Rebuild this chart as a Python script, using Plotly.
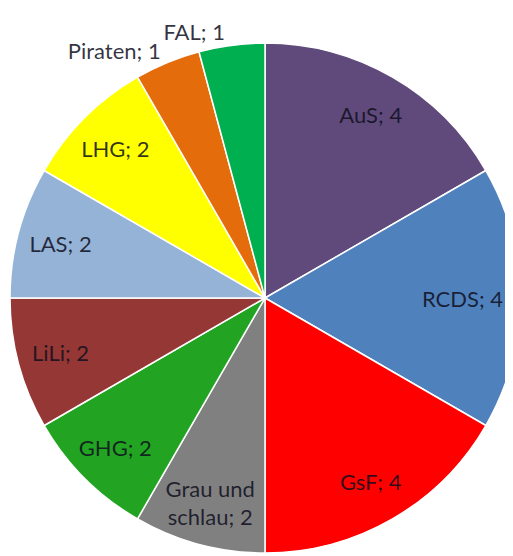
import plotly.graph_objects as go

labels = ["AuS", "RCDS", "GsF", "Grau und schlau", "GHG", "LiLi", "LAS", "LHG", "Piraten", "FAL"]
values = [4, 4, 4, 2, 2, 2, 2, 2, 1, 1]
colors = ["#604A7B", "#4F81BD", "#FF0000", "#808080", "#22A422",
          "#953735", "#95B3D7", "#FFFF00", "#E46C0A", "#00B050"]
outside_labels = ["Piraten", "FAL"]

display = [l.replace("Grau und schlau", "Grau und<br>schlau") for l in labels]
texts = [f"{d}; {v}" for d, v in zip(display, values)]

font = dict(family="Lato", size=22, color="rgba(15,15,30,0.85)")
transparent = ["rgba(0,0,0,0)"] * len(labels)

common = dict(labels=labels, values=values, text=texts, textinfo="text",
              sort=False, direction="clockwise", rotation=0,
              showlegend=False, automargin=False,
              textfont=font, insidetextfont=font, outsidetextfont=font)

fig = go.Figure()

# main coloured pie, carries the "Piraten" outside label
fig.add_trace(go.Pie(
    **common,
    textposition=["outside" if l == "Piraten" else "none" for l in labels],
    marker=dict(colors=colors, line=dict(color="#FFFFFF", width=1.5)),
    hoverinfo="label+value",
))

# transparent rings carrying the inside labels further out
ring_groups = [(0.66, [l for l in labels if l not in outside_labels and l != "RCDS"]),
               (0.55, ["RCDS"])]
for hole, group in ring_groups:
    fig.add_trace(go.Pie(
        **common,
        hole=hole,
        textposition=["inside" if l in group else "none" for l in labels],
        insidetextorientation="horizontal",
        marker=dict(colors=transparent, line=dict(width=0)),
        hoverinfo="skip",
    ))

# transparent pie carrying the "FAL" outside label
fig.add_trace(go.Pie(
    **common,
    textposition=["outside" if l == "FAL" else "none" for l in labels],
    marker=dict(colors=transparent, line=dict(width=0)),
    hoverinfo="skip",
))

fig.update_layout(
    width=513, height=556,
    margin=dict(l=2, r=1, t=35, b=11),
    paper_bgcolor="white",
    plot_bgcolor="white",
    uniformtext=dict(minsize=22, mode="show"),
)

fig.write_html("out.html")
